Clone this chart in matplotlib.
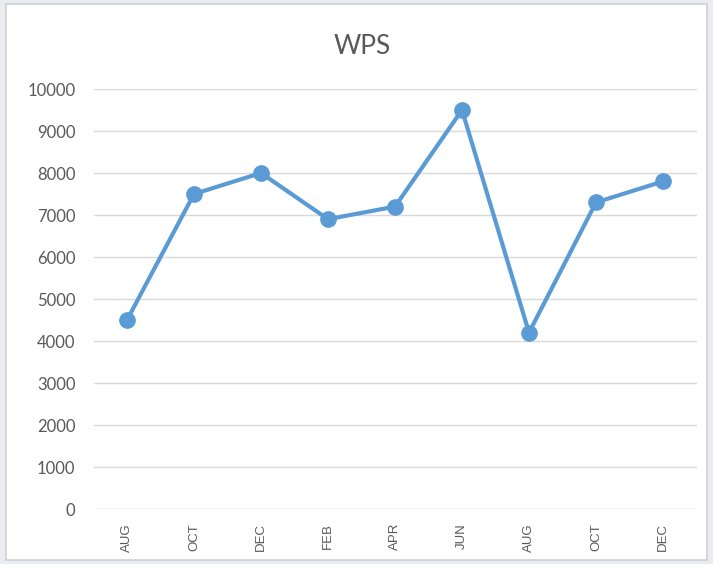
import matplotlib
matplotlib.use('Agg')
from matplotlib import pyplot as plt
from matplotlib.patches import Rectangle

months = ['AUG', 'OCT', 'DEC', 'FEB', 'APR', 'JUN', 'AUG', 'OCT', 'DEC']
wps = [4500, 7500, 8000, 6900, 7200, 9500, 4200, 7300, 7800]
y_ticks = [0, 1000, 2000, 3000, 4000, 5000, 6000, 7000, 8000, 9000, 10000]

blue = '#5B9BD5'
grey_text = '#595959'

fig = plt.figure(figsize=(7.13, 5.64), dpi=100, facecolor='#e9edf1')

# white chart area with thin border (kept behind the axes)
fig.patches.append(Rectangle((6 / 713, 4 / 564), 701 / 713, 556 / 564,
                             transform=fig.transFigure, facecolor='white',
                             edgecolor='#d0d0d0', linewidth=1.2, zorder=-10))

ax = fig.add_axes([93.5 / 713, 55 / 564, 603 / 713, 420 / 564])
ax.set_facecolor('none')

x = list(range(len(months)))
ax.plot(x, wps, color=blue, linewidth=3, marker='o', markersize=11,
        markerfacecolor=blue, markeredgecolor=blue, zorder=3)

# axis limits and ticks
ax.set_xlim(-0.5, len(months) - 0.5)
ax.set_ylim(0, 10000)
ax.set_yticks(y_ticks)
ax.set_yticklabels([str(v) for v in y_ticks], fontsize=12, color=grey_text,
                   family=['Lato', 'DejaVu Sans'])
ax.set_xticks(x)
ax.set_xticklabels(months, rotation=90, fontsize=9.5, color=grey_text,
                   family=['Liberation Sans', 'DejaVu Sans'])
ax.tick_params(axis='both', length=0)
ax.tick_params(axis='y', pad=13)
ax.tick_params(axis='x', pad=10)

# grid
ax.grid(axis='y', color='#d9d9d9', linewidth=1)
ax.set_axisbelow(True)
for s in ax.spines.values():
    s.set_visible(False)

fig.text(362 / 713, 1 - 46 / 564, 'WPS', ha='center', va='center',
         fontsize=19, color=grey_text, family=['Lato', 'DejaVu Sans'])

plt.savefig('out.png', dpi=100, facecolor=fig.get_facecolor())
